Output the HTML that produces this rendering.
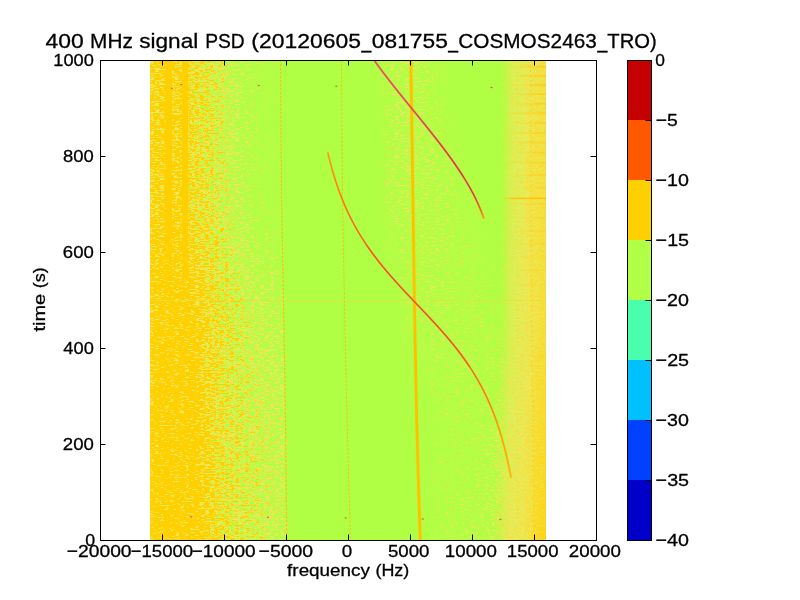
<!DOCTYPE html><html><head><meta charset="utf-8"><style>html,body{margin:0;padding:0;background:#fff;width:800px;height:600px;overflow:hidden}svg{display:block}text{font-family:"Liberation Sans",sans-serif;fill:#000;stroke:#000;stroke-width:0.3px}</style></head><body>
<svg width="800" height="600" viewBox="0 0 800 600">
<defs><clipPath id="cp"><rect x="150" y="60" width="396" height="480"/></clipPath><filter id="tex" x="150" y="60" width="396" height="480" filterUnits="userSpaceOnUse" color-interpolation-filters="sRGB"><feTurbulence type="fractalNoise" baseFrequency="0.2 0.75" numOctaves="2" seed="4" result="n0"/><feColorMatrix in="n0" type="matrix" values="1 0 0 0 0 1 0 0 0 0 1 0 0 0 0 0 0 0 0 1" result="n1"/><feComponentTransfer in="n1" result="u"><feFuncR type="table" tableValues="0.0000 0.0000 0.0000 0.0000 0.0000 0.0001 0.0004 0.0013 0.0032 0.0070 0.0138 0.0290 0.0486 0.0729 0.1091 0.1501 0.2002 0.2591 0.3206 0.3981 0.4649 0.5939 0.6771 0.7415 0.8051 0.8526 0.8925 0.9298 0.9548 0.9731 0.9870 0.9933 0.9969 0.9988 0.9996 0.9999 1.0000 1.0000 1.0000 1.0000 1.0000"/><feFuncG type="table" tableValues="0.0000 0.0000 0.0000 0.0000 0.0000 0.0001 0.0004 0.0013 0.0032 0.0070 0.0138 0.0290 0.0486 0.0729 0.1091 0.1501 0.2002 0.2591 0.3206 0.3981 0.4649 0.5939 0.6771 0.7415 0.8051 0.8526 0.8925 0.9298 0.9548 0.9731 0.9870 0.9933 0.9969 0.9988 0.9996 0.9999 1.0000 1.0000 1.0000 1.0000 1.0000"/><feFuncB type="table" tableValues="0.0000 0.0000 0.0000 0.0000 0.0000 0.0001 0.0004 0.0013 0.0032 0.0070 0.0138 0.0290 0.0486 0.0729 0.1091 0.1501 0.2002 0.2591 0.3206 0.3981 0.4649 0.5939 0.6771 0.7415 0.8051 0.8526 0.8925 0.9298 0.9548 0.9731 0.9870 0.9933 0.9969 0.9988 0.9996 0.9999 1.0000 1.0000 1.0000 1.0000 1.0000"/></feComponentTransfer><feComposite in="SourceGraphic" in2="u" operator="arithmetic" k1="0" k2="2.5500" k3="-1.5000" k4="0.0000" result="p"/><feComponentTransfer in="p"><feFuncR type="table" tableValues="0.6941 0.7042 0.7154 0.7273 0.7398 0.7527 0.7658 0.7791 0.7924 0.8055 0.8183 0.8308 0.8428 0.8544 0.8655 0.8759 0.8858 0.8950 0.9037 0.9118 0.9193 0.9264 0.9330 0.9393 0.9453 0.9512 0.9570 0.9630 0.9692 0.9758 0.9830 0.9910 1.0000"/><feFuncG type="table" tableValues="1.0000 0.9943 0.9886 0.9830 0.9776 0.9724 0.9674 0.9627 0.9583 0.9541 0.9502 0.9466 0.9432 0.9400 0.9369 0.9340 0.9312 0.9283 0.9254 0.9223 0.9190 0.9153 0.9112 0.9065 0.9011 0.8949 0.8878 0.8795 0.8700 0.8590 0.8464 0.8321 0.8157"/><feFuncB type="table" tableValues="0.2745 0.2673 0.2629 0.2609 0.2612 0.2637 0.2680 0.2739 0.2813 0.2897 0.2990 0.3089 0.3190 0.3291 0.3388 0.3477 0.3556 0.3621 0.3667 0.3692 0.3690 0.3659 0.3592 0.3487 0.3339 0.3142 0.2892 0.2585 0.2215 0.1776 0.1265 0.0675 0.0000"/><feFuncA type="linear" slope="0" intercept="1"/></feComponentTransfer><feGaussianBlur stdDeviation="0.5 0.35" edgeMode="duplicate"/></filter><linearGradient id="n60" x1="150" x2="546" y1="0" y2="0" gradientUnits="userSpaceOnUse"><stop offset="0.0000" stop-color="#a2a2a2"/><stop offset="0.0038" stop-color="#bebebe"/><stop offset="0.0253" stop-color="#c1c1c1"/><stop offset="0.0379" stop-color="#c3c3c3"/><stop offset="0.0404" stop-color="#fafafa"/><stop offset="0.0543" stop-color="#fafafa"/><stop offset="0.0568" stop-color="#bebebe"/><stop offset="0.0795" stop-color="#bebebe"/><stop offset="0.0821" stop-color="#fafafa"/><stop offset="0.0947" stop-color="#fafafa"/><stop offset="0.0972" stop-color="#ababab"/><stop offset="0.1136" stop-color="#9f9f9f"/><stop offset="0.1187" stop-color="#9c9c9c"/><stop offset="0.1263" stop-color="#979797"/><stop offset="0.1389" stop-color="#8e8e8e"/><stop offset="0.1439" stop-color="#8a8a8a"/><stop offset="0.1515" stop-color="#858585"/><stop offset="0.1641" stop-color="#7c7c7c"/><stop offset="0.1692" stop-color="#787878"/><stop offset="0.1818" stop-color="#6c6c6c"/><stop offset="0.1894" stop-color="#656565"/><stop offset="0.1944" stop-color="#606060"/><stop offset="0.1970" stop-color="#5e5e5e"/><stop offset="0.2146" stop-color="#4d4d4d"/><stop offset="0.2273" stop-color="#3e3e3e"/><stop offset="0.2475" stop-color="#363636"/><stop offset="0.2652" stop-color="#2e2e2e"/><stop offset="0.2778" stop-color="#272727"/><stop offset="0.3030" stop-color="#202020"/><stop offset="0.3283" stop-color="#181818"/><stop offset="0.3333" stop-color="#0e0e0e"/><stop offset="0.3359" stop-color="#000000"/><stop offset="0.3409" stop-color="#000000"/><stop offset="0.3434" stop-color="#000000"/><stop offset="0.3460" stop-color="#000000"/><stop offset="0.3485" stop-color="#000000"/><stop offset="0.3535" stop-color="#000000"/><stop offset="0.5682" stop-color="#000000"/><stop offset="0.5758" stop-color="#1b1b1b"/><stop offset="0.5934" stop-color="#313131"/><stop offset="0.6010" stop-color="#363636"/><stop offset="0.6187" stop-color="#414141"/><stop offset="0.6263" stop-color="#444444"/><stop offset="0.6313" stop-color="#444444"/><stop offset="0.6439" stop-color="#434343"/><stop offset="0.6515" stop-color="#424242"/><stop offset="0.6768" stop-color="#404040"/><stop offset="0.6818" stop-color="#3f3f3f"/><stop offset="0.6944" stop-color="#3a3a3a"/><stop offset="0.7020" stop-color="#363636"/><stop offset="0.7197" stop-color="#2b2b2b"/><stop offset="0.7323" stop-color="#222222"/><stop offset="0.7702" stop-color="#000000"/><stop offset="0.7828" stop-color="#000000"/><stop offset="0.8081" stop-color="#000000"/><stop offset="0.8333" stop-color="#000000"/><stop offset="0.8460" stop-color="#000000"/><stop offset="0.8712" stop-color="#000000"/><stop offset="0.8788" stop-color="#000000"/><stop offset="0.8813" stop-color="#161616"/><stop offset="0.8889" stop-color="#2a2a2a"/><stop offset="0.8914" stop-color="#313131"/><stop offset="0.8965" stop-color="#464646"/><stop offset="0.9015" stop-color="#555555"/><stop offset="0.9091" stop-color="#696969"/><stop offset="0.9141" stop-color="#757575"/><stop offset="0.9444" stop-color="#828282"/><stop offset="0.9470" stop-color="#838383"/><stop offset="0.9545" stop-color="#919191"/><stop offset="0.9596" stop-color="#9a9a9a"/><stop offset="0.9747" stop-color="#a0a0a0"/><stop offset="1.0000" stop-color="#ababab"/></linearGradient><linearGradient id="n200" x1="150" x2="546" y1="0" y2="0" gradientUnits="userSpaceOnUse"><stop offset="0.0000" stop-color="#ababab"/><stop offset="0.0038" stop-color="#c3c3c3"/><stop offset="0.0253" stop-color="#c7c7c7"/><stop offset="0.0379" stop-color="#cacaca"/><stop offset="0.0404" stop-color="#fafafa"/><stop offset="0.0543" stop-color="#fafafa"/><stop offset="0.0568" stop-color="#c3c3c3"/><stop offset="0.0795" stop-color="#c3c3c3"/><stop offset="0.0821" stop-color="#fafafa"/><stop offset="0.0947" stop-color="#fafafa"/><stop offset="0.0972" stop-color="#ababab"/><stop offset="0.1136" stop-color="#a0a0a0"/><stop offset="0.1187" stop-color="#9c9c9c"/><stop offset="0.1263" stop-color="#979797"/><stop offset="0.1389" stop-color="#909090"/><stop offset="0.1439" stop-color="#8c8c8c"/><stop offset="0.1515" stop-color="#888888"/><stop offset="0.1641" stop-color="#7d7d7d"/><stop offset="0.1692" stop-color="#787878"/><stop offset="0.1818" stop-color="#6d6d6d"/><stop offset="0.1894" stop-color="#676767"/><stop offset="0.1944" stop-color="#636363"/><stop offset="0.1970" stop-color="#606060"/><stop offset="0.2146" stop-color="#515151"/><stop offset="0.2273" stop-color="#484848"/><stop offset="0.2475" stop-color="#363636"/><stop offset="0.2652" stop-color="#2e2e2e"/><stop offset="0.2778" stop-color="#272727"/><stop offset="0.3030" stop-color="#212121"/><stop offset="0.3283" stop-color="#1a1a1a"/><stop offset="0.3333" stop-color="#181818"/><stop offset="0.3359" stop-color="#141414"/><stop offset="0.3409" stop-color="#000000"/><stop offset="0.3434" stop-color="#000000"/><stop offset="0.3460" stop-color="#000000"/><stop offset="0.3485" stop-color="#000000"/><stop offset="0.3535" stop-color="#000000"/><stop offset="0.5682" stop-color="#000000"/><stop offset="0.5758" stop-color="#000000"/><stop offset="0.5934" stop-color="#2e2e2e"/><stop offset="0.6010" stop-color="#363636"/><stop offset="0.6187" stop-color="#3e3e3e"/><stop offset="0.6263" stop-color="#414141"/><stop offset="0.6313" stop-color="#424242"/><stop offset="0.6439" stop-color="#424242"/><stop offset="0.6515" stop-color="#424242"/><stop offset="0.6768" stop-color="#424242"/><stop offset="0.6818" stop-color="#424242"/><stop offset="0.6944" stop-color="#424242"/><stop offset="0.7020" stop-color="#414141"/><stop offset="0.7197" stop-color="#3e3e3e"/><stop offset="0.7323" stop-color="#3c3c3c"/><stop offset="0.7702" stop-color="#303030"/><stop offset="0.7828" stop-color="#292929"/><stop offset="0.8081" stop-color="#222222"/><stop offset="0.8333" stop-color="#181818"/><stop offset="0.8460" stop-color="#151515"/><stop offset="0.8712" stop-color="#090909"/><stop offset="0.8788" stop-color="#000000"/><stop offset="0.8813" stop-color="#161616"/><stop offset="0.8889" stop-color="#2a2a2a"/><stop offset="0.8914" stop-color="#313131"/><stop offset="0.8965" stop-color="#464646"/><stop offset="0.9015" stop-color="#555555"/><stop offset="0.9091" stop-color="#6b6b6b"/><stop offset="0.9141" stop-color="#787878"/><stop offset="0.9444" stop-color="#8b8b8b"/><stop offset="0.9470" stop-color="#8f8f8f"/><stop offset="0.9545" stop-color="#9b9b9b"/><stop offset="0.9596" stop-color="#a4a4a4"/><stop offset="0.9747" stop-color="#a9a9a9"/><stop offset="1.0000" stop-color="#b4b4b4"/></linearGradient><linearGradient id="n320" x1="150" x2="546" y1="0" y2="0" gradientUnits="userSpaceOnUse"><stop offset="0.0000" stop-color="#bebebe"/><stop offset="0.0038" stop-color="#cdcdcd"/><stop offset="0.0253" stop-color="#d7d7d7"/><stop offset="0.0379" stop-color="#d7d7d7"/><stop offset="0.0404" stop-color="#d7d7d7"/><stop offset="0.0543" stop-color="#d7d7d7"/><stop offset="0.0568" stop-color="#d7d7d7"/><stop offset="0.0795" stop-color="#d7d7d7"/><stop offset="0.0821" stop-color="#d7d7d7"/><stop offset="0.0947" stop-color="#d7d7d7"/><stop offset="0.0972" stop-color="#d7d7d7"/><stop offset="0.1136" stop-color="#d7d7d7"/><stop offset="0.1187" stop-color="#cfcfcf"/><stop offset="0.1263" stop-color="#c6c6c6"/><stop offset="0.1389" stop-color="#b8b8b8"/><stop offset="0.1439" stop-color="#b3b3b3"/><stop offset="0.1515" stop-color="#aaaaaa"/><stop offset="0.1641" stop-color="#9f9f9f"/><stop offset="0.1692" stop-color="#9b9b9b"/><stop offset="0.1818" stop-color="#919191"/><stop offset="0.1894" stop-color="#8b8b8b"/><stop offset="0.1944" stop-color="#878787"/><stop offset="0.1970" stop-color="#858585"/><stop offset="0.2146" stop-color="#7a7a7a"/><stop offset="0.2273" stop-color="#727272"/><stop offset="0.2475" stop-color="#656565"/><stop offset="0.2652" stop-color="#5a5a5a"/><stop offset="0.2778" stop-color="#565656"/><stop offset="0.3030" stop-color="#4d4d4d"/><stop offset="0.3283" stop-color="#494949"/><stop offset="0.3333" stop-color="#484848"/><stop offset="0.3359" stop-color="#474747"/><stop offset="0.3409" stop-color="#292929"/><stop offset="0.3434" stop-color="#000000"/><stop offset="0.3460" stop-color="#000000"/><stop offset="0.3485" stop-color="#000000"/><stop offset="0.3535" stop-color="#000000"/><stop offset="0.5682" stop-color="#000000"/><stop offset="0.5758" stop-color="#000000"/><stop offset="0.5934" stop-color="#000000"/><stop offset="0.6010" stop-color="#000000"/><stop offset="0.6187" stop-color="#000000"/><stop offset="0.6263" stop-color="#171717"/><stop offset="0.6313" stop-color="#1e1e1e"/><stop offset="0.6439" stop-color="#292929"/><stop offset="0.6515" stop-color="#2a2a2a"/><stop offset="0.6768" stop-color="#313131"/><stop offset="0.6818" stop-color="#313131"/><stop offset="0.6944" stop-color="#333333"/><stop offset="0.7020" stop-color="#333333"/><stop offset="0.7197" stop-color="#353535"/><stop offset="0.7323" stop-color="#363636"/><stop offset="0.7702" stop-color="#343434"/><stop offset="0.7828" stop-color="#333333"/><stop offset="0.8081" stop-color="#313131"/><stop offset="0.8333" stop-color="#2f2f2f"/><stop offset="0.8460" stop-color="#2c2c2c"/><stop offset="0.8712" stop-color="#292929"/><stop offset="0.8788" stop-color="#282828"/><stop offset="0.8813" stop-color="#272727"/><stop offset="0.8889" stop-color="#3d3d3d"/><stop offset="0.8914" stop-color="#424242"/><stop offset="0.8965" stop-color="#4d4d4d"/><stop offset="0.9015" stop-color="#595959"/><stop offset="0.9091" stop-color="#6a6a6a"/><stop offset="0.9141" stop-color="#757575"/><stop offset="0.9444" stop-color="#909090"/><stop offset="0.9470" stop-color="#929292"/><stop offset="0.9545" stop-color="#989898"/><stop offset="0.9596" stop-color="#9d9d9d"/><stop offset="0.9747" stop-color="#a6a6a6"/><stop offset="1.0000" stop-color="#b6b6b6"/></linearGradient><linearGradient id="n420" x1="150" x2="546" y1="0" y2="0" gradientUnits="userSpaceOnUse"><stop offset="0.0000" stop-color="#c3c3c3"/><stop offset="0.0038" stop-color="#dbdbdb"/><stop offset="0.0253" stop-color="#dbdbdb"/><stop offset="0.0379" stop-color="#dbdbdb"/><stop offset="0.0404" stop-color="#dbdbdb"/><stop offset="0.0543" stop-color="#dbdbdb"/><stop offset="0.0568" stop-color="#dbdbdb"/><stop offset="0.0795" stop-color="#dbdbdb"/><stop offset="0.0821" stop-color="#dbdbdb"/><stop offset="0.0947" stop-color="#dbdbdb"/><stop offset="0.0972" stop-color="#dbdbdb"/><stop offset="0.1136" stop-color="#dbdbdb"/><stop offset="0.1187" stop-color="#d4d4d4"/><stop offset="0.1263" stop-color="#cbcbcb"/><stop offset="0.1389" stop-color="#bebebe"/><stop offset="0.1439" stop-color="#b7b7b7"/><stop offset="0.1515" stop-color="#aeaeae"/><stop offset="0.1641" stop-color="#a2a2a2"/><stop offset="0.1692" stop-color="#9e9e9e"/><stop offset="0.1818" stop-color="#949494"/><stop offset="0.1894" stop-color="#8e8e8e"/><stop offset="0.1944" stop-color="#8b8b8b"/><stop offset="0.1970" stop-color="#8a8a8a"/><stop offset="0.2146" stop-color="#808080"/><stop offset="0.2273" stop-color="#797979"/><stop offset="0.2475" stop-color="#717171"/><stop offset="0.2652" stop-color="#6a6a6a"/><stop offset="0.2778" stop-color="#666666"/><stop offset="0.3030" stop-color="#5e5e5e"/><stop offset="0.3283" stop-color="#585858"/><stop offset="0.3333" stop-color="#575757"/><stop offset="0.3359" stop-color="#565656"/><stop offset="0.3409" stop-color="#555555"/><stop offset="0.3434" stop-color="#464646"/><stop offset="0.3460" stop-color="#323232"/><stop offset="0.3485" stop-color="#000000"/><stop offset="0.3535" stop-color="#000000"/><stop offset="0.5682" stop-color="#000000"/><stop offset="0.5758" stop-color="#000000"/><stop offset="0.5934" stop-color="#000000"/><stop offset="0.6010" stop-color="#000000"/><stop offset="0.6187" stop-color="#000000"/><stop offset="0.6263" stop-color="#000000"/><stop offset="0.6313" stop-color="#000000"/><stop offset="0.6439" stop-color="#000000"/><stop offset="0.6515" stop-color="#000000"/><stop offset="0.6768" stop-color="#000000"/><stop offset="0.6818" stop-color="#000000"/><stop offset="0.6944" stop-color="#000000"/><stop offset="0.7020" stop-color="#151515"/><stop offset="0.7197" stop-color="#272727"/><stop offset="0.7323" stop-color="#282828"/><stop offset="0.7702" stop-color="#2a2a2a"/><stop offset="0.7828" stop-color="#2b2b2b"/><stop offset="0.8081" stop-color="#2e2e2e"/><stop offset="0.8333" stop-color="#303030"/><stop offset="0.8460" stop-color="#313131"/><stop offset="0.8712" stop-color="#424242"/><stop offset="0.8788" stop-color="#4c4c4c"/><stop offset="0.8813" stop-color="#4e4e4e"/><stop offset="0.8889" stop-color="#555555"/><stop offset="0.8914" stop-color="#5b5b5b"/><stop offset="0.8965" stop-color="#666666"/><stop offset="0.9015" stop-color="#707070"/><stop offset="0.9091" stop-color="#7f7f7f"/><stop offset="0.9141" stop-color="#828282"/><stop offset="0.9444" stop-color="#969696"/><stop offset="0.9470" stop-color="#989898"/><stop offset="0.9545" stop-color="#9d9d9d"/><stop offset="0.9596" stop-color="#a3a3a3"/><stop offset="0.9747" stop-color="#b6b6b6"/><stop offset="1.0000" stop-color="#c3c3c3"/></linearGradient><linearGradient id="n540" x1="150" x2="546" y1="0" y2="0" gradientUnits="userSpaceOnUse"><stop offset="0.0000" stop-color="#c3c3c3"/><stop offset="0.0038" stop-color="#dbdbdb"/><stop offset="0.0253" stop-color="#dbdbdb"/><stop offset="0.0379" stop-color="#dbdbdb"/><stop offset="0.0404" stop-color="#dbdbdb"/><stop offset="0.0543" stop-color="#dbdbdb"/><stop offset="0.0568" stop-color="#dbdbdb"/><stop offset="0.0795" stop-color="#dbdbdb"/><stop offset="0.0821" stop-color="#dbdbdb"/><stop offset="0.0947" stop-color="#dbdbdb"/><stop offset="0.0972" stop-color="#dbdbdb"/><stop offset="0.1136" stop-color="#dbdbdb"/><stop offset="0.1187" stop-color="#dbdbdb"/><stop offset="0.1263" stop-color="#d1d1d1"/><stop offset="0.1389" stop-color="#c3c3c3"/><stop offset="0.1439" stop-color="#bebebe"/><stop offset="0.1515" stop-color="#b5b5b5"/><stop offset="0.1641" stop-color="#a9a9a9"/><stop offset="0.1692" stop-color="#a6a6a6"/><stop offset="0.1818" stop-color="#9c9c9c"/><stop offset="0.1894" stop-color="#979797"/><stop offset="0.1944" stop-color="#949494"/><stop offset="0.1970" stop-color="#939393"/><stop offset="0.2146" stop-color="#878787"/><stop offset="0.2273" stop-color="#7f7f7f"/><stop offset="0.2475" stop-color="#777777"/><stop offset="0.2652" stop-color="#707070"/><stop offset="0.2778" stop-color="#6b6b6b"/><stop offset="0.3030" stop-color="#616161"/><stop offset="0.3283" stop-color="#575757"/><stop offset="0.3333" stop-color="#555555"/><stop offset="0.3359" stop-color="#545454"/><stop offset="0.3409" stop-color="#535353"/><stop offset="0.3434" stop-color="#525252"/><stop offset="0.3460" stop-color="#515151"/><stop offset="0.3485" stop-color="#424242"/><stop offset="0.3535" stop-color="#000000"/><stop offset="0.5682" stop-color="#000000"/><stop offset="0.5758" stop-color="#000000"/><stop offset="0.5934" stop-color="#000000"/><stop offset="0.6010" stop-color="#000000"/><stop offset="0.6187" stop-color="#000000"/><stop offset="0.6263" stop-color="#000000"/><stop offset="0.6313" stop-color="#000000"/><stop offset="0.6439" stop-color="#000000"/><stop offset="0.6515" stop-color="#000000"/><stop offset="0.6768" stop-color="#000000"/><stop offset="0.6818" stop-color="#000000"/><stop offset="0.6944" stop-color="#000000"/><stop offset="0.7020" stop-color="#151515"/><stop offset="0.7197" stop-color="#272727"/><stop offset="0.7323" stop-color="#282828"/><stop offset="0.7702" stop-color="#2f2f2f"/><stop offset="0.7828" stop-color="#313131"/><stop offset="0.8081" stop-color="#343434"/><stop offset="0.8333" stop-color="#363636"/><stop offset="0.8460" stop-color="#3f3f3f"/><stop offset="0.8712" stop-color="#4d4d4d"/><stop offset="0.8788" stop-color="#606060"/><stop offset="0.8813" stop-color="#656565"/><stop offset="0.8889" stop-color="#717171"/><stop offset="0.8914" stop-color="#747474"/><stop offset="0.8965" stop-color="#7c7c7c"/><stop offset="0.9015" stop-color="#838383"/><stop offset="0.9091" stop-color="#8e8e8e"/><stop offset="0.9141" stop-color="#919191"/><stop offset="0.9444" stop-color="#a1a1a1"/><stop offset="0.9470" stop-color="#a3a3a3"/><stop offset="0.9545" stop-color="#a8a8a8"/><stop offset="0.9596" stop-color="#adadad"/><stop offset="0.9747" stop-color="#c3c3c3"/><stop offset="1.0000" stop-color="#d3d3d3"/></linearGradient><linearGradient id="nr0" x1="0" x2="0" y1="60" y2="200" gradientUnits="userSpaceOnUse"><stop offset="0" stop-color="#000"/><stop offset="1" stop-color="#fff"/></linearGradient><mask id="nm0" maskUnits="userSpaceOnUse" x="150" y="60" width="396" height="140"><rect x="150" y="60" width="396" height="140" fill="url(#nr0)"/></mask><linearGradient id="nr1" x1="0" x2="0" y1="200" y2="320" gradientUnits="userSpaceOnUse"><stop offset="0" stop-color="#000"/><stop offset="1" stop-color="#fff"/></linearGradient><mask id="nm1" maskUnits="userSpaceOnUse" x="150" y="200" width="396" height="120"><rect x="150" y="200" width="396" height="120" fill="url(#nr1)"/></mask><linearGradient id="nr2" x1="0" x2="0" y1="320" y2="420" gradientUnits="userSpaceOnUse"><stop offset="0" stop-color="#000"/><stop offset="1" stop-color="#fff"/></linearGradient><mask id="nm2" maskUnits="userSpaceOnUse" x="150" y="320" width="396" height="100"><rect x="150" y="320" width="396" height="100" fill="url(#nr2)"/></mask><linearGradient id="nr3" x1="0" x2="0" y1="420" y2="540" gradientUnits="userSpaceOnUse"><stop offset="0" stop-color="#000"/><stop offset="1" stop-color="#fff"/></linearGradient><mask id="nm3" maskUnits="userSpaceOnUse" x="150" y="420" width="396" height="120"><rect x="150" y="420" width="396" height="120" fill="url(#nr3)"/></mask><linearGradient id="q60" x1="495" x2="546" y1="0" y2="0" gradientUnits="userSpaceOnUse"><stop offset="0.0000" stop-color="#b1ff46" stop-opacity="0.00"/><stop offset="0.0588" stop-color="#b1ff46" stop-opacity="0.20"/><stop offset="0.0784" stop-color="#b2fe45" stop-opacity="0.30"/><stop offset="0.1373" stop-color="#b7fc43" stop-opacity="0.60"/><stop offset="0.1569" stop-color="#b8fb43" stop-opacity="0.70"/><stop offset="0.1961" stop-color="#c1f843" stop-opacity="0.90"/><stop offset="0.2353" stop-color="#caf448"/><stop offset="0.2941" stop-color="#d6f151"/><stop offset="0.3333" stop-color="#deef57"/><stop offset="0.5686" stop-color="#e5ec5d"/><stop offset="0.5882" stop-color="#e6ec5d"/><stop offset="0.6471" stop-color="#ebea5e"/><stop offset="0.6863" stop-color="#efe85b"/><stop offset="0.8039" stop-color="#f0e657"/><stop offset="1.0000" stop-color="#f3e34c"/></linearGradient><linearGradient id="q200" x1="495" x2="546" y1="0" y2="0" gradientUnits="userSpaceOnUse"><stop offset="0.0000" stop-color="#b1ff46" stop-opacity="0.00"/><stop offset="0.0588" stop-color="#b1ff46" stop-opacity="0.20"/><stop offset="0.0784" stop-color="#b2fe45" stop-opacity="0.30"/><stop offset="0.1373" stop-color="#b7fc43" stop-opacity="0.60"/><stop offset="0.1569" stop-color="#b8fb43" stop-opacity="0.70"/><stop offset="0.1961" stop-color="#c1f843" stop-opacity="0.90"/><stop offset="0.2353" stop-color="#caf448"/><stop offset="0.2941" stop-color="#d8f052"/><stop offset="0.3333" stop-color="#dfee59"/><stop offset="0.5686" stop-color="#e9eb5e"/><stop offset="0.5882" stop-color="#ebea5e"/><stop offset="0.6471" stop-color="#efe85a"/><stop offset="0.6863" stop-color="#f2e554"/><stop offset="0.8039" stop-color="#f3e44e"/><stop offset="1.0000" stop-color="#f5e143"/></linearGradient><linearGradient id="q320" x1="495" x2="546" y1="0" y2="0" gradientUnits="userSpaceOnUse"><stop offset="0.0000" stop-color="#b5fd43" stop-opacity="0.00"/><stop offset="0.0588" stop-color="#b5fd43" stop-opacity="0.20"/><stop offset="0.0784" stop-color="#b5fd43" stop-opacity="0.30"/><stop offset="0.1373" stop-color="#bdf943" stop-opacity="0.60"/><stop offset="0.1569" stop-color="#bff843" stop-opacity="0.70"/><stop offset="0.1961" stop-color="#c5f645" stop-opacity="0.90"/><stop offset="0.2353" stop-color="#ccf449"/><stop offset="0.2941" stop-color="#d7f052"/><stop offset="0.3333" stop-color="#deef57"/><stop offset="0.5686" stop-color="#ebea5e"/><stop offset="0.5882" stop-color="#ecea5e"/><stop offset="0.6471" stop-color="#eee85b"/><stop offset="0.6863" stop-color="#f0e759"/><stop offset="0.8039" stop-color="#f2e552"/><stop offset="1.0000" stop-color="#f6e040"/></linearGradient><linearGradient id="q420" x1="495" x2="546" y1="0" y2="0" gradientUnits="userSpaceOnUse"><stop offset="0.0000" stop-color="#bafa42" stop-opacity="0.00"/><stop offset="0.0588" stop-color="#c1f843" stop-opacity="0.20"/><stop offset="0.0784" stop-color="#c3f744" stop-opacity="0.30"/><stop offset="0.1373" stop-color="#caf448" stop-opacity="0.60"/><stop offset="0.1569" stop-color="#cef34a" stop-opacity="0.70"/><stop offset="0.1961" stop-color="#d5f14f" stop-opacity="0.90"/><stop offset="0.2353" stop-color="#dbef55"/><stop offset="0.2941" stop-color="#e3ed5c"/><stop offset="0.3333" stop-color="#e5ec5d"/><stop offset="0.5686" stop-color="#ede95c"/><stop offset="0.5882" stop-color="#eee85c"/><stop offset="0.6471" stop-color="#f0e759"/><stop offset="0.6863" stop-color="#f1e655"/><stop offset="0.8039" stop-color="#f6e040"/><stop offset="1.0000" stop-color="#f8dc30"/></linearGradient><linearGradient id="q540" x1="495" x2="546" y1="0" y2="0" gradientUnits="userSpaceOnUse"><stop offset="0.0000" stop-color="#c5f645" stop-opacity="0.00"/><stop offset="0.0588" stop-color="#d1f24c" stop-opacity="0.20"/><stop offset="0.0784" stop-color="#d4f14f" stop-opacity="0.30"/><stop offset="0.1373" stop-color="#dbef55" stop-opacity="0.60"/><stop offset="0.1569" stop-color="#deef57" stop-opacity="0.70"/><stop offset="0.1961" stop-color="#e2ee5b" stop-opacity="0.90"/><stop offset="0.2353" stop-color="#e5ec5d"/><stop offset="0.2941" stop-color="#eaea5e"/><stop offset="0.3333" stop-color="#ebea5e"/><stop offset="0.5686" stop-color="#f1e656"/><stop offset="0.5882" stop-color="#f1e655"/><stop offset="0.6471" stop-color="#f2e450"/><stop offset="0.6863" stop-color="#f4e34a"/><stop offset="0.8039" stop-color="#f8dc30"/><stop offset="1.0000" stop-color="#fbd61a"/></linearGradient><linearGradient id="qr0" x1="0" x2="0" y1="60" y2="200" gradientUnits="userSpaceOnUse"><stop offset="0" stop-color="#000"/><stop offset="1" stop-color="#fff"/></linearGradient><mask id="qm0" maskUnits="userSpaceOnUse" x="495" y="60" width="51" height="140"><rect x="495" y="60" width="51" height="140" fill="url(#qr0)"/></mask><linearGradient id="qr1" x1="0" x2="0" y1="200" y2="320" gradientUnits="userSpaceOnUse"><stop offset="0" stop-color="#000"/><stop offset="1" stop-color="#fff"/></linearGradient><mask id="qm1" maskUnits="userSpaceOnUse" x="495" y="200" width="51" height="120"><rect x="495" y="200" width="51" height="120" fill="url(#qr1)"/></mask><linearGradient id="qr2" x1="0" x2="0" y1="320" y2="420" gradientUnits="userSpaceOnUse"><stop offset="0" stop-color="#000"/><stop offset="1" stop-color="#fff"/></linearGradient><mask id="qm2" maskUnits="userSpaceOnUse" x="495" y="320" width="51" height="100"><rect x="495" y="320" width="51" height="100" fill="url(#qr2)"/></mask><linearGradient id="qr3" x1="0" x2="0" y1="420" y2="540" gradientUnits="userSpaceOnUse"><stop offset="0" stop-color="#000"/><stop offset="1" stop-color="#fff"/></linearGradient><mask id="qm3" maskUnits="userSpaceOnUse" x="495" y="420" width="51" height="120"><rect x="495" y="420" width="51" height="120" fill="url(#qr3)"/></mask><linearGradient id="stg" x1="506" x2="546" y1="0" y2="0" gradientUnits="userSpaceOnUse"><stop offset="0" stop-color="#ffd000" stop-opacity="0"/><stop offset="0.5" stop-color="#ffc800" stop-opacity="0.6"/><stop offset="1" stop-color="#ffc000" stop-opacity="1"/></linearGradient><linearGradient id="sg" x1="0" x2="0" y1="153" y2="478" gradientUnits="userSpaceOnUse"><stop offset="0" stop-color="#ff9a10"/><stop offset="0.2" stop-color="#f86420"/><stop offset="0.35" stop-color="#f04a28"/><stop offset="0.6" stop-color="#f04a28"/><stop offset="0.75" stop-color="#ff7810"/><stop offset="0.88" stop-color="#ffa000"/><stop offset="1" stop-color="#ffb400"/></linearGradient><linearGradient id="ug" x1="0" x2="0" y1="60" y2="218" gradientUnits="userSpaceOnUse"><stop offset="0" stop-color="#e05068"/><stop offset="0.5" stop-color="#dc3c50"/><stop offset="0.85" stop-color="#d83040"/><stop offset="0.95" stop-color="#f06020"/><stop offset="1" stop-color="#ffa000"/></linearGradient></defs>
<g clip-path="url(#cp)">
<rect x="150" y="60" width="396.0" height="480" fill="#b1ff46"/>
<g filter="url(#tex)"><rect x="150" y="60" width="396" height="140" fill="url(#n60)"/><rect x="150" y="60" width="396" height="140" fill="url(#n200)" mask="url(#nm0)"/><rect x="150" y="200" width="396" height="120" fill="url(#n200)"/><rect x="150" y="200" width="396" height="120" fill="url(#n320)" mask="url(#nm1)"/><rect x="150" y="320" width="396" height="100" fill="url(#n320)"/><rect x="150" y="320" width="396" height="100" fill="url(#n420)" mask="url(#nm2)"/><rect x="150" y="420" width="396" height="120" fill="url(#n420)"/><rect x="150" y="420" width="396" height="120" fill="url(#n540)" mask="url(#nm3)"/></g>
<g opacity="0.75"><rect x="495" y="60" width="51" height="140" fill="url(#q60)"/><rect x="495" y="60" width="51" height="140" fill="url(#q200)" mask="url(#qm0)"/><rect x="495" y="200" width="51" height="120" fill="url(#q200)"/><rect x="495" y="200" width="51" height="120" fill="url(#q320)" mask="url(#qm1)"/><rect x="495" y="320" width="51" height="100" fill="url(#q320)"/><rect x="495" y="320" width="51" height="100" fill="url(#q420)" mask="url(#qm2)"/><rect x="495" y="420" width="51" height="120" fill="url(#q420)"/><rect x="495" y="420" width="51" height="120" fill="url(#q540)" mask="url(#qm3)"/></g>
<g fill="url(#stg)"><rect x="506" y="65.9" width="40.4" height="1.8" opacity="0.54"/><rect x="506" y="75.0" width="40.4" height="1.8" opacity="0.52"/><rect x="506" y="84.2" width="40.4" height="1.8" opacity="0.50"/><rect x="506" y="93.2" width="40.4" height="1.8" opacity="0.49"/><rect x="506" y="102.9" width="40.4" height="1.8" opacity="0.47"/><rect x="506" y="112.2" width="40.4" height="1.8" opacity="0.45"/><rect x="506" y="122.2" width="40.4" height="1.8" opacity="0.43"/><rect x="506" y="132.2" width="40.4" height="1.8" opacity="0.42"/><rect x="506" y="141.7" width="40.4" height="1.8" opacity="0.40"/><rect x="506" y="151.7" width="40.4" height="1.8" opacity="0.38"/><rect x="506" y="161.7" width="40.4" height="1.8" opacity="0.36"/><rect x="506" y="174.2" width="40.4" height="1.8" opacity="0.34"/><rect x="506" y="186.7" width="40.4" height="1.8" opacity="0.32"/><rect x="506" y="203.2" width="40.4" height="1.8" opacity="0.29"/><rect x="506" y="216.7" width="40.4" height="1.8" opacity="0.26"/><rect x="506" y="230.2" width="40.4" height="1.8" opacity="0.24"/><rect x="506" y="243.2" width="40.4" height="1.8" opacity="0.21"/><rect x="506" y="256.7" width="40.4" height="1.8" opacity="0.19"/><rect x="506" y="269.2" width="40.4" height="1.8" opacity="0.17"/><rect x="506" y="284.2" width="40.4" height="1.8" opacity="0.14"/></g><rect x="510" y="197.7" width="36.4" height="1.4" fill="#ffbc00" opacity="0.85"/><rect x="504" y="197.7" width="6" height="1.4" fill="#ffc000" opacity="0.3"/><path d="M530.5,60 L531.5,300 L534.5,540" stroke="#ffc800" stroke-width="1.2" stroke-dasharray="2 3" opacity="0.5" fill="none"/>
<g fill="#e04858" opacity="0.85"><ellipse cx="172" cy="88.2" rx="1.2" ry="0.75"/><ellipse cx="181.25" cy="84.5" rx="1.2" ry="0.75"/><ellipse cx="258.75" cy="85.5" rx="1.2" ry="0.75"/><ellipse cx="336.25" cy="86.3" rx="1.2" ry="0.75"/><ellipse cx="491.5" cy="87.4" rx="1.2" ry="0.75"/><ellipse cx="191.3" cy="516.8" rx="1.2" ry="0.75"/><ellipse cx="268" cy="517.2" rx="1.2" ry="0.75"/><ellipse cx="345.7" cy="518" rx="1.2" ry="0.75"/><ellipse cx="422.8" cy="519" rx="1.2" ry="0.75"/><ellipse cx="500.4" cy="519.4" rx="1.2" ry="0.75"/></g><path d="M280.5,60 L281.5,200 L283.5,300 L285.5,420 L286.8,540" stroke="#ffb400" stroke-width="1.2" stroke-dasharray="2.5 1.5" fill="none" opacity="0.75"/><path d="M341.5,60 L342.5,200 L345,330 L346.5,400 L350.5,540" stroke="#ffb400" stroke-width="1.1" stroke-dasharray="3 1" fill="none" opacity="0.6"/><path d="M150,300.5 L546,300.5" stroke="#e6e040" stroke-width="1" fill="none" opacity="0.8"/><path d="M410.75,58.00 L410.82,62.00 L410.89,66.00 L410.96,70.00 L411.03,74.00 L411.09,78.00 L411.16,82.00 L411.23,86.00 L411.30,90.00 L411.36,94.00 L411.43,98.00 L411.49,102.00 L411.55,106.00 L411.62,110.00 L411.68,114.00 L411.74,118.00 L411.80,122.00 L411.86,126.00 L411.92,130.00 L411.98,134.00 L412.04,138.00 L412.10,142.00 L412.16,146.00 L412.22,150.00 L412.28,154.00 L412.34,158.00 L412.39,162.00 L412.45,166.00 L412.51,170.00 L412.56,174.00 L412.62,178.00 L412.68,182.00 L412.73,186.00 L412.79,190.00 L412.85,194.00 L412.90,198.00 L412.96,202.00 L413.02,206.00 L413.07,210.00 L413.13,214.00 L413.19,218.00 L413.24,222.00 L413.30,226.00 L413.36,230.00 L413.41,234.00 L413.47,238.00 L413.53,242.00 L413.59,246.00 L413.65,250.00 L413.70,254.00 L413.76,258.00 L413.82,262.00 L413.88,266.00 L413.94,270.00 L414.00,274.00 L414.06,278.00 L414.13,282.00 L414.19,286.00 L414.25,290.00 L414.31,294.00 L414.38,298.00 L414.44,302.00 L414.51,306.00 L414.57,310.00 L414.64,314.00 L414.71,318.00 L414.77,322.00 L414.84,326.00 L414.91,330.00 L414.98,334.00 L415.05,338.00 L415.13,342.00 L415.20,346.00 L415.27,350.00 L415.35,354.00 L415.42,358.00 L415.50,362.00 L415.58,366.00 L415.66,370.00 L415.74,374.00 L415.82,378.00 L415.90,382.00 L415.98,386.00 L416.07,390.00 L416.15,394.00 L416.24,398.00 L416.33,402.00 L416.42,406.00 L416.51,410.00 L416.60,414.00 L416.69,418.00 L416.79,422.00 L416.88,426.00 L416.98,430.00 L417.08,434.00 L417.18,438.00 L417.28,442.00 L417.39,446.00 L417.49,450.00 L417.60,454.00 L417.71,458.00 L417.82,462.00 L417.93,466.00 L418.04,470.00 L418.16,474.00 L418.27,478.00 L418.39,482.00 L418.51,486.00 L418.63,490.00 L418.76,494.00 L418.88,498.00 L419.01,502.00 L419.14,506.00 L419.27,510.00 L419.40,514.00 L419.54,518.00 L419.68,522.00 L419.82,526.00 L419.96,530.00 L420.10,534.00 L420.25,538.00 L420.39,542.00" stroke="#ffcc20" stroke-width="4.6" fill="none" opacity="0.25"/><path d="M410.75,58.00 L410.82,62.00 L410.89,66.00 L410.96,70.00 L411.03,74.00 L411.09,78.00 L411.16,82.00 L411.23,86.00 L411.30,90.00 L411.36,94.00 L411.43,98.00 L411.49,102.00 L411.55,106.00 L411.62,110.00 L411.68,114.00 L411.74,118.00 L411.80,122.00 L411.86,126.00 L411.92,130.00 L411.98,134.00 L412.04,138.00 L412.10,142.00 L412.16,146.00 L412.22,150.00 L412.28,154.00 L412.34,158.00 L412.39,162.00 L412.45,166.00 L412.51,170.00 L412.56,174.00 L412.62,178.00 L412.68,182.00 L412.73,186.00 L412.79,190.00 L412.85,194.00 L412.90,198.00 L412.96,202.00 L413.02,206.00 L413.07,210.00 L413.13,214.00 L413.19,218.00 L413.24,222.00 L413.30,226.00 L413.36,230.00 L413.41,234.00 L413.47,238.00 L413.53,242.00 L413.59,246.00 L413.65,250.00 L413.70,254.00 L413.76,258.00 L413.82,262.00 L413.88,266.00 L413.94,270.00 L414.00,274.00 L414.06,278.00 L414.13,282.00 L414.19,286.00 L414.25,290.00 L414.31,294.00 L414.38,298.00 L414.44,302.00 L414.51,306.00 L414.57,310.00 L414.64,314.00 L414.71,318.00 L414.77,322.00 L414.84,326.00 L414.91,330.00 L414.98,334.00 L415.05,338.00 L415.13,342.00 L415.20,346.00 L415.27,350.00 L415.35,354.00 L415.42,358.00 L415.50,362.00 L415.58,366.00 L415.66,370.00 L415.74,374.00 L415.82,378.00 L415.90,382.00 L415.98,386.00 L416.07,390.00 L416.15,394.00 L416.24,398.00 L416.33,402.00 L416.42,406.00 L416.51,410.00 L416.60,414.00 L416.69,418.00 L416.79,422.00 L416.88,426.00 L416.98,430.00 L417.08,434.00 L417.18,438.00 L417.28,442.00 L417.39,446.00 L417.49,450.00 L417.60,454.00 L417.71,458.00 L417.82,462.00 L417.93,466.00 L418.04,470.00 L418.16,474.00 L418.27,478.00 L418.39,482.00 L418.51,486.00 L418.63,490.00 L418.76,494.00 L418.88,498.00 L419.01,502.00 L419.14,506.00 L419.27,510.00 L419.40,514.00 L419.54,518.00 L419.68,522.00 L419.82,526.00 L419.96,530.00 L420.10,534.00 L420.25,538.00 L420.39,542.00" stroke="#ffc000" stroke-width="2.7" fill="none"/><path d="M327.94,153.00 L328.29,154.50 L328.65,156.00 L329.02,157.50 L329.39,159.00 L329.77,160.50 L330.15,162.00 L330.54,163.50 L330.94,165.00 L331.34,166.50 L331.76,168.00 L332.18,169.50 L332.60,171.00 L333.04,172.50 L333.48,174.00 L333.93,175.50 L334.39,177.00 L334.85,178.50 L335.33,180.00 L335.81,181.50 L336.30,183.00 L336.80,184.50 L337.31,186.00 L337.83,187.50 L338.36,189.00 L338.89,190.50 L339.44,192.00 L340.00,193.50 L340.57,195.00 L341.15,196.50 L341.73,198.00 L342.33,199.50 L342.94,201.00 L343.57,202.50 L344.20,204.00 L344.84,205.50 L345.50,207.00 L346.17,208.50 L346.85,210.00 L347.54,211.50 L348.24,213.00 L348.96,214.50 L349.69,216.00 L350.43,217.50 L351.19,219.00 L351.96,220.50 L352.75,222.00 L353.54,223.50 L354.35,225.00 L355.18,226.50 L356.02,228.00 L356.87,229.50 L357.74,231.00 L358.63,232.50 L359.52,234.00 L360.44,235.50 L361.36,237.00 L362.31,238.50 L363.27,240.00 L364.24,241.50 L365.23,243.00 L366.23,244.50 L367.25,246.00 L368.29,247.50 L369.34,249.00 L370.40,250.50 L371.48,252.00 L372.58,253.50 L373.69,255.00 L374.82,256.50 L375.96,258.00 L377.12,259.50 L378.29,261.00 L379.47,262.50 L380.67,264.00 L381.89,265.50 L383.11,267.00 L384.36,268.50 L385.61,270.00 L386.88,271.50 L388.16,273.00 L389.45,274.50 L390.76,276.00 L392.07,277.50 L393.40,279.00 L394.73,280.50 L396.08,282.00 L397.44,283.50 L398.80,285.00 L400.18,286.50 L401.56,288.00 L402.95,289.50 L404.35,291.00 L405.75,292.50 L407.16,294.00 L408.57,295.50 L409.99,297.00 L411.41,298.50 L412.83,300.00 L414.25,301.50 L415.68,303.00 L417.11,304.50 L418.54,306.00 L419.96,307.50 L421.39,309.00 L422.81,310.50 L424.23,312.00 L425.65,313.50 L427.06,315.00 L428.47,316.50 L429.88,318.00 L431.27,319.50 L432.66,321.00 L434.05,322.50 L435.42,324.00 L436.79,325.50 L438.15,327.00 L439.50,328.50 L440.84,330.00 L442.17,331.50 L443.49,333.00 L444.79,334.50 L446.09,336.00 L447.37,337.50 L448.64,339.00 L449.90,340.50 L451.14,342.00 L452.38,343.50 L453.59,345.00 L454.80,346.50 L455.99,348.00 L457.16,349.50 L458.32,351.00 L459.46,352.50 L460.59,354.00 L461.71,355.50 L462.81,357.00 L463.89,358.50 L464.96,360.00 L466.02,361.50 L467.05,363.00 L468.08,364.50 L469.09,366.00 L470.08,367.50 L471.05,369.00 L472.02,370.50 L472.96,372.00 L473.89,373.50 L474.81,375.00 L475.71,376.50 L476.60,378.00 L477.47,379.50 L478.33,381.00 L479.17,382.50 L480.00,384.00 L480.81,385.50 L481.62,387.00 L482.40,388.50 L483.18,390.00 L483.93,391.50 L484.68,393.00 L485.41,394.50 L486.13,396.00 L486.84,397.50 L487.54,399.00 L488.22,400.50 L488.89,402.00 L489.55,403.50 L490.20,405.00 L490.83,406.50 L491.46,408.00 L492.07,409.50 L492.67,411.00 L493.26,412.50 L493.84,414.00 L494.41,415.50 L494.97,417.00 L495.52,418.50 L496.06,420.00 L496.59,421.50 L497.11,423.00 L497.62,424.50 L498.13,426.00 L498.62,427.50 L499.11,429.00 L499.58,430.50 L500.05,432.00 L500.51,433.50 L500.96,435.00 L501.40,436.50 L501.84,438.00 L502.27,439.50 L502.69,441.00 L503.10,442.50 L503.51,444.00 L503.91,445.50 L504.30,447.00 L504.69,448.50 L505.07,450.00 L505.44,451.50 L505.81,453.00 L506.17,454.50 L506.52,456.00 L506.87,457.50 L507.21,459.00 L507.55,460.50 L507.88,462.00 L508.21,463.50 L508.53,465.00 L508.84,466.50 L509.15,468.00 L509.46,469.50 L509.76,471.00 L510.06,472.50 L510.35,474.00 L510.63,475.50 L510.92,477.00" stroke="#ffb020" stroke-width="2.3" fill="none" stroke-linecap="round" opacity="0.45"/><path d="M327.94,153.00 L328.29,154.50 L328.65,156.00 L329.02,157.50 L329.39,159.00 L329.77,160.50 L330.15,162.00 L330.54,163.50 L330.94,165.00 L331.34,166.50 L331.76,168.00 L332.18,169.50 L332.60,171.00 L333.04,172.50 L333.48,174.00 L333.93,175.50 L334.39,177.00 L334.85,178.50 L335.33,180.00 L335.81,181.50 L336.30,183.00 L336.80,184.50 L337.31,186.00 L337.83,187.50 L338.36,189.00 L338.89,190.50 L339.44,192.00 L340.00,193.50 L340.57,195.00 L341.15,196.50 L341.73,198.00 L342.33,199.50 L342.94,201.00 L343.57,202.50 L344.20,204.00 L344.84,205.50 L345.50,207.00 L346.17,208.50 L346.85,210.00 L347.54,211.50 L348.24,213.00 L348.96,214.50 L349.69,216.00 L350.43,217.50 L351.19,219.00 L351.96,220.50 L352.75,222.00 L353.54,223.50 L354.35,225.00 L355.18,226.50 L356.02,228.00 L356.87,229.50 L357.74,231.00 L358.63,232.50 L359.52,234.00 L360.44,235.50 L361.36,237.00 L362.31,238.50 L363.27,240.00 L364.24,241.50 L365.23,243.00 L366.23,244.50 L367.25,246.00 L368.29,247.50 L369.34,249.00 L370.40,250.50 L371.48,252.00 L372.58,253.50 L373.69,255.00 L374.82,256.50 L375.96,258.00 L377.12,259.50 L378.29,261.00 L379.47,262.50 L380.67,264.00 L381.89,265.50 L383.11,267.00 L384.36,268.50 L385.61,270.00 L386.88,271.50 L388.16,273.00 L389.45,274.50 L390.76,276.00 L392.07,277.50 L393.40,279.00 L394.73,280.50 L396.08,282.00 L397.44,283.50 L398.80,285.00 L400.18,286.50 L401.56,288.00 L402.95,289.50 L404.35,291.00 L405.75,292.50 L407.16,294.00 L408.57,295.50 L409.99,297.00 L411.41,298.50 L412.83,300.00 L414.25,301.50 L415.68,303.00 L417.11,304.50 L418.54,306.00 L419.96,307.50 L421.39,309.00 L422.81,310.50 L424.23,312.00 L425.65,313.50 L427.06,315.00 L428.47,316.50 L429.88,318.00 L431.27,319.50 L432.66,321.00 L434.05,322.50 L435.42,324.00 L436.79,325.50 L438.15,327.00 L439.50,328.50 L440.84,330.00 L442.17,331.50 L443.49,333.00 L444.79,334.50 L446.09,336.00 L447.37,337.50 L448.64,339.00 L449.90,340.50 L451.14,342.00 L452.38,343.50 L453.59,345.00 L454.80,346.50 L455.99,348.00 L457.16,349.50 L458.32,351.00 L459.46,352.50 L460.59,354.00 L461.71,355.50 L462.81,357.00 L463.89,358.50 L464.96,360.00 L466.02,361.50 L467.05,363.00 L468.08,364.50 L469.09,366.00 L470.08,367.50 L471.05,369.00 L472.02,370.50 L472.96,372.00 L473.89,373.50 L474.81,375.00 L475.71,376.50 L476.60,378.00 L477.47,379.50 L478.33,381.00 L479.17,382.50 L480.00,384.00 L480.81,385.50 L481.62,387.00 L482.40,388.50 L483.18,390.00 L483.93,391.50 L484.68,393.00 L485.41,394.50 L486.13,396.00 L486.84,397.50 L487.54,399.00 L488.22,400.50 L488.89,402.00 L489.55,403.50 L490.20,405.00 L490.83,406.50 L491.46,408.00 L492.07,409.50 L492.67,411.00 L493.26,412.50 L493.84,414.00 L494.41,415.50 L494.97,417.00 L495.52,418.50 L496.06,420.00 L496.59,421.50 L497.11,423.00 L497.62,424.50 L498.13,426.00 L498.62,427.50 L499.11,429.00 L499.58,430.50 L500.05,432.00 L500.51,433.50 L500.96,435.00 L501.40,436.50 L501.84,438.00 L502.27,439.50 L502.69,441.00 L503.10,442.50 L503.51,444.00 L503.91,445.50 L504.30,447.00 L504.69,448.50 L505.07,450.00 L505.44,451.50 L505.81,453.00 L506.17,454.50 L506.52,456.00 L506.87,457.50 L507.21,459.00 L507.55,460.50 L507.88,462.00 L508.21,463.50 L508.53,465.00 L508.84,466.50 L509.15,468.00 L509.46,469.50 L509.76,471.00 L510.06,472.50 L510.35,474.00 L510.63,475.50 L510.92,477.00" stroke="url(#sg)" stroke-width="1.35" fill="none" stroke-linecap="round"/><path d="M371.18,56.00 L372.22,57.50 L373.27,59.00 L374.34,60.50 L375.41,62.00 L376.49,63.50 L377.58,65.00 L378.68,66.50 L379.79,68.00 L380.90,69.50 L382.03,71.00 L383.16,72.50 L384.30,74.00 L385.44,75.50 L386.59,77.00 L387.75,78.50 L388.91,80.00 L390.08,81.50 L391.25,83.00 L392.43,84.50 L393.62,86.00 L394.81,87.50 L396.00,89.00 L397.20,90.50 L398.40,92.00 L399.60,93.50 L400.81,95.00 L402.02,96.50 L403.23,98.00 L404.45,99.50 L405.67,101.00 L406.89,102.50 L408.11,104.00 L409.33,105.50 L410.55,107.00 L411.77,108.50 L413.00,110.00 L414.22,111.50 L415.44,113.00 L416.67,114.50 L417.89,116.00 L419.11,117.50 L420.33,119.00 L421.55,120.50 L422.76,122.00 L423.98,123.50 L425.19,125.00 L426.40,126.50 L427.60,128.00 L428.80,129.50 L430.00,131.00 L431.20,132.50 L432.39,134.00 L433.57,135.50 L434.75,137.00 L435.93,138.50 L437.10,140.00 L438.26,141.50 L439.42,143.00 L440.58,144.50 L441.72,146.00 L442.86,147.50 L443.99,149.00 L445.12,150.50 L446.24,152.00 L447.35,153.50 L448.45,155.00 L449.54,156.50 L450.62,158.00 L451.70,159.50 L452.77,161.00 L453.82,162.50 L454.87,164.00 L455.90,165.50 L456.93,167.00 L457.95,168.50 L458.95,170.00 L459.94,171.50 L460.92,173.00 L461.89,174.50 L462.85,176.00 L463.80,177.50 L464.73,179.00 L465.65,180.50 L466.55,182.00 L467.45,183.50 L468.32,185.00 L469.19,186.50 L470.04,188.00 L470.87,189.50 L471.70,191.00 L472.50,192.50 L473.29,194.00 L474.06,195.50 L474.82,197.00 L475.56,198.50 L476.29,200.00 L477.00,201.50 L477.69,203.00 L478.36,204.50 L479.01,206.00 L479.65,207.50 L480.27,209.00 L480.87,210.50 L481.45,212.00 L482.01,213.50 L482.56,215.00 L483.08,216.50 L483.58,218.00" stroke="#ff8840" stroke-width="2.3" fill="none" stroke-linecap="round" opacity="0.45"/><path d="M371.18,56.00 L372.22,57.50 L373.27,59.00 L374.34,60.50 L375.41,62.00 L376.49,63.50 L377.58,65.00 L378.68,66.50 L379.79,68.00 L380.90,69.50 L382.03,71.00 L383.16,72.50 L384.30,74.00 L385.44,75.50 L386.59,77.00 L387.75,78.50 L388.91,80.00 L390.08,81.50 L391.25,83.00 L392.43,84.50 L393.62,86.00 L394.81,87.50 L396.00,89.00 L397.20,90.50 L398.40,92.00 L399.60,93.50 L400.81,95.00 L402.02,96.50 L403.23,98.00 L404.45,99.50 L405.67,101.00 L406.89,102.50 L408.11,104.00 L409.33,105.50 L410.55,107.00 L411.77,108.50 L413.00,110.00 L414.22,111.50 L415.44,113.00 L416.67,114.50 L417.89,116.00 L419.11,117.50 L420.33,119.00 L421.55,120.50 L422.76,122.00 L423.98,123.50 L425.19,125.00 L426.40,126.50 L427.60,128.00 L428.80,129.50 L430.00,131.00 L431.20,132.50 L432.39,134.00 L433.57,135.50 L434.75,137.00 L435.93,138.50 L437.10,140.00 L438.26,141.50 L439.42,143.00 L440.58,144.50 L441.72,146.00 L442.86,147.50 L443.99,149.00 L445.12,150.50 L446.24,152.00 L447.35,153.50 L448.45,155.00 L449.54,156.50 L450.62,158.00 L451.70,159.50 L452.77,161.00 L453.82,162.50 L454.87,164.00 L455.90,165.50 L456.93,167.00 L457.95,168.50 L458.95,170.00 L459.94,171.50 L460.92,173.00 L461.89,174.50 L462.85,176.00 L463.80,177.50 L464.73,179.00 L465.65,180.50 L466.55,182.00 L467.45,183.50 L468.32,185.00 L469.19,186.50 L470.04,188.00 L470.87,189.50 L471.70,191.00 L472.50,192.50 L473.29,194.00 L474.06,195.50 L474.82,197.00 L475.56,198.50 L476.29,200.00 L477.00,201.50 L477.69,203.00 L478.36,204.50 L479.01,206.00 L479.65,207.50 L480.27,209.00 L480.87,210.50 L481.45,212.00 L482.01,213.50 L482.56,215.00 L483.08,216.50 L483.58,218.00" stroke="url(#ug)" stroke-width="1.4" fill="none" stroke-linecap="round"/>
</g>
<g stroke="#000" fill="none" stroke-width="1">
<rect x="100.5" y="60.5" width="496" height="480"/>
<path d="M100.5,540V534.5M100.5,60V65.5M162.5,540V534.5M162.5,60V65.5M224.5,540V534.5M224.5,60V65.5M286.5,540V534.5M286.5,60V65.5M348.5,540V534.5M348.5,60V65.5M410.5,540V534.5M410.5,60V65.5M472.5,540V534.5M472.5,60V65.5M534.5,540V534.5M534.5,60V65.5M596.5,540V534.5M596.5,60V65.5M100,540.5H105.5M596,540.5H590.5M100,444.5H105.5M596,444.5H590.5M100,348.5H105.5M596,348.5H590.5M100,252.5H105.5M596,252.5H590.5M100,156.5H105.5M596,156.5H590.5M100,60.5H105.5M596,60.5H590.5"/>
</g>
<g shape-rendering="crispEdges"><rect x="627" y="60" width="25" height="60" fill="#c40000"/><rect x="627" y="120" width="25" height="60" fill="#ff5900"/><rect x="627" y="180" width="25" height="60" fill="#ffd000"/><rect x="627" y="240" width="25" height="60" fill="#b1ff46"/><rect x="627" y="300" width="25" height="60" fill="#49ffad"/><rect x="627" y="360" width="25" height="60" fill="#00c0ff"/><rect x="627" y="420" width="25" height="60" fill="#0040ff"/><rect x="627" y="480" width="25" height="60" fill="#0000c8"/></g>
<g stroke="#000" fill="none" stroke-width="1"><rect x="627.5" y="60.5" width="24" height="480"/>
<path d="M651,120.5H645.5M651,180.5H645.5M651,240.5H645.5M651,300.5H645.5M651,360.5H645.5M651,420.5H645.5M651,480.5H645.5"/></g>
<g style="filter:grayscale(1)"><text x="45.47" y="48.20" font-size="20.9" textLength="38.22" lengthAdjust="spacingAndGlyphs">400</text><text x="90.09" y="48.20" font-size="20.9" textLength="42.74" lengthAdjust="spacingAndGlyphs">MHz</text><text x="139.17" y="48.20" font-size="20.9" textLength="59.09" lengthAdjust="spacingAndGlyphs">signal</text><text x="205.22" y="48.20" font-size="20.9" textLength="39.49" lengthAdjust="spacingAndGlyphs">PSD</text><text x="251.38" y="48.20" font-size="20.9" textLength="109.58" lengthAdjust="spacingAndGlyphs">(20120605</text><text x="361.52" y="48.20" font-size="20.9" textLength="9.79" lengthAdjust="spacingAndGlyphs">_</text><text x="371.86" y="48.20" font-size="20.9" textLength="76.00" lengthAdjust="spacingAndGlyphs">081755</text><text x="448.17" y="48.20" font-size="20.9" textLength="9.74" lengthAdjust="spacingAndGlyphs">_</text><text x="458.35" y="48.20" font-size="20.9" textLength="138.47" lengthAdjust="spacingAndGlyphs">COSMOS2463</text><text x="597.47" y="48.20" font-size="20.9" textLength="9.83" lengthAdjust="spacingAndGlyphs">_</text><text x="607.35" y="48.20" font-size="20.9" textLength="49.41" lengthAdjust="spacingAndGlyphs">TRO)</text><text x="85.31" y="546.20" font-size="17" textLength="9.89" lengthAdjust="spacingAndGlyphs">0</text><text x="62.82" y="450.20" font-size="17" textLength="31.01" lengthAdjust="spacingAndGlyphs">200</text><text x="63.38" y="354.20" font-size="17" textLength="30.43" lengthAdjust="spacingAndGlyphs">400</text><text x="62.86" y="258.20" font-size="17" textLength="30.97" lengthAdjust="spacingAndGlyphs">600</text><text x="63.10" y="162.20" font-size="17" textLength="30.72" lengthAdjust="spacingAndGlyphs">800</text><text x="53.31" y="66.20" font-size="17" textLength="40.50" lengthAdjust="spacingAndGlyphs">1000</text><text x="66.85" y="557.10" font-size="17" textLength="64.70" lengthAdjust="spacingAndGlyphs">−20000</text><text x="130.74" y="557.10" font-size="17" textLength="62.39" lengthAdjust="spacingAndGlyphs">−15000</text><text x="191.66" y="557.10" font-size="17" textLength="63.98" lengthAdjust="spacingAndGlyphs">−10000</text><text x="258.54" y="557.10" font-size="17" textLength="54.62" lengthAdjust="spacingAndGlyphs">−5000</text><text x="341.66" y="557.10" font-size="17" textLength="10.47" lengthAdjust="spacingAndGlyphs">0</text><text x="387.95" y="557.10" font-size="17" textLength="41.53" lengthAdjust="spacingAndGlyphs">5000</text><text x="444.87" y="557.10" font-size="17" textLength="52.11" lengthAdjust="spacingAndGlyphs">10000</text><text x="506.84" y="557.10" font-size="17" textLength="51.64" lengthAdjust="spacingAndGlyphs">15000</text><text x="568.86" y="557.10" font-size="17" textLength="52.07" lengthAdjust="spacingAndGlyphs">20000</text><text x="287.13" y="575.90" font-size="17" textLength="82.70" lengthAdjust="spacingAndGlyphs">frequency</text><text x="375.44" y="575.90" font-size="17" textLength="33.88" lengthAdjust="spacingAndGlyphs">(Hz)</text><g transform="translate(44.8,300) rotate(-90)"><text x="-31.60" y="0.00" font-size="17" textLength="37.79" lengthAdjust="spacingAndGlyphs">time</text><text x="11.89" y="0.00" font-size="17" textLength="20.93" lengthAdjust="spacingAndGlyphs">(s)</text></g><text x="655.32" y="65.80" font-size="17" textLength="9.66" lengthAdjust="spacingAndGlyphs">0</text><text x="655.75" y="125.80" font-size="17" textLength="22.07" lengthAdjust="spacingAndGlyphs">−5</text><text x="655.63" y="185.80" font-size="17" textLength="33.39" lengthAdjust="spacingAndGlyphs">−10</text><text x="655.63" y="245.80" font-size="17" textLength="33.45" lengthAdjust="spacingAndGlyphs">−15</text><text x="655.63" y="305.80" font-size="17" textLength="33.39" lengthAdjust="spacingAndGlyphs">−20</text><text x="655.63" y="365.80" font-size="17" textLength="33.45" lengthAdjust="spacingAndGlyphs">−25</text><text x="655.63" y="425.80" font-size="17" textLength="33.39" lengthAdjust="spacingAndGlyphs">−30</text><text x="655.63" y="485.80" font-size="17" textLength="33.45" lengthAdjust="spacingAndGlyphs">−35</text><text x="655.63" y="545.80" font-size="17" textLength="33.39" lengthAdjust="spacingAndGlyphs">−40</text></g>
</svg></body></html>
